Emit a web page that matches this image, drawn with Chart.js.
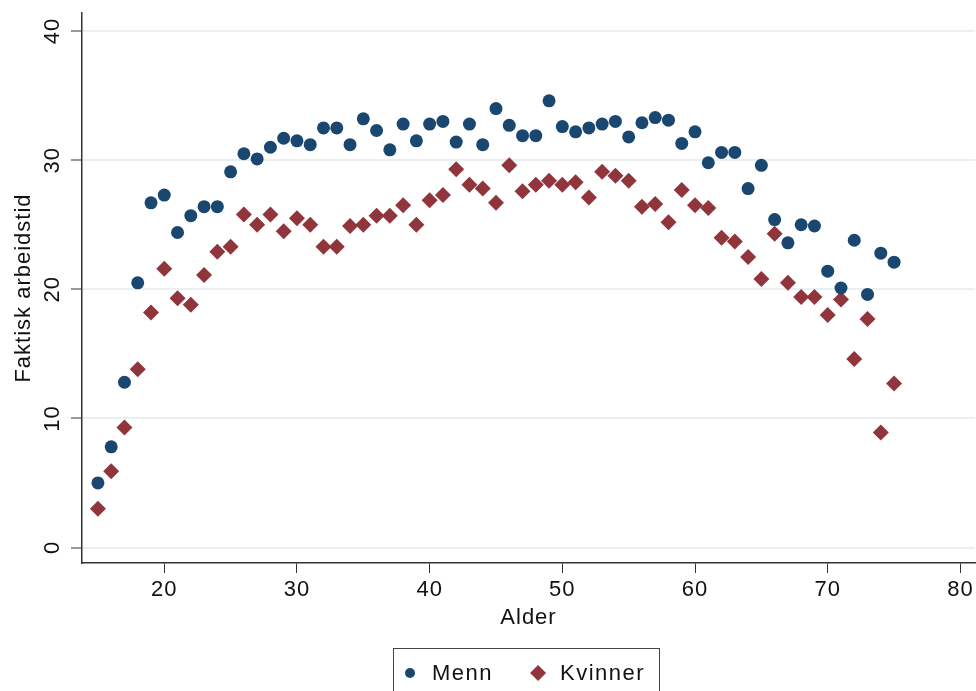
<!DOCTYPE html>
<html>
<head>
<meta charset="utf-8">
<script src="https://cdn.jsdelivr.net/npm/chart.js@4.4.1/dist/chart.umd.min.js"></script>
<style>
  html, body { margin: 0; padding: 0; background: #fff; }
  #wrap { width: 976px; height: 691px; }
</style>
</head>
<body>
<div id="wrap"><canvas id="chart"></canvas></div>
<script>
// Alder 15-75
const ages = [15,16,17,18,19,20,21,22,23,24,25,26,27,28,29,30,31,32,33,34,35,36,37,38,39,40,
  41,42,43,44,45,46,47,48,49,50,51,52,53,54,55,56,57,58,59,60,61,62,63,64,65,66,67,68,69,70,
  71,72,73,74,75];

const menn = [5.0,7.8,12.8,20.5,26.7,27.3,24.4,25.7,26.4,26.4,29.1,30.5,30.1,31.0,31.7,31.5,31.2,
  32.5,32.5,31.2,33.2,32.3,30.8,32.8,31.5,32.8,33.0,31.4,32.8,31.2,34.0,32.7,31.9,31.9,34.6,
  32.6,32.2,32.5,32.8,33.0,31.8,32.9,33.3,33.1,31.3,32.2,29.8,30.6,30.6,27.8,29.6,25.4,23.6,
  25.0,24.9,21.4,20.1,23.8,19.6,22.8,22.1];

const kvinner = [3.0,5.9,9.3,13.8,18.2,21.6,19.3,18.8,21.1,22.9,23.3,25.8,25.0,25.8,24.5,25.5,25.0,
  23.3,23.3,24.9,25.0,25.7,25.7,26.5,25.0,26.9,27.3,29.3,28.1,27.8,26.7,29.6,27.6,28.1,28.4,
  28.1,28.3,27.1,29.1,28.8,28.4,26.4,26.6,25.2,27.7,26.5,26.3,24.0,23.7,22.5,20.8,24.3,20.5,
  19.4,19.4,18.0,19.2,14.6,17.7,8.9,12.7];

const xTicks = [20, 30, 40, 50, 60, 70, 80];
const yTicks = [0, 10, 20, 30, 40];

const font = "'Liberation Sans', Arial, sans-serif";
const textColor = "#111";

// Stata-like text: a bit of letter spacing
const spacing = {
  id: "spacing",
  beforeLayout(chart) { chart.ctx.letterSpacing = "1px"; },
  beforeDraw(chart) { chart.ctx.letterSpacing = "1px"; },
};

// y tick labels, turned like in Stata
const yLabels = {
  id: "yLabels",
  afterDraw(chart) {
    const ctx = chart.ctx;
    const y = chart.scales.y;
    ctx.save();
    ctx.fillStyle = textColor;
    ctx.font = "22px " + font;
    ctx.letterSpacing = "1px";
    ctx.textAlign = "center";
    ctx.textBaseline = "middle";
    yTicks.forEach((v) => {
      ctx.save();
      ctx.translate(53, y.getPixelForValue(v));
      ctx.rotate(-Math.PI / 2);
      ctx.fillText(String(v), 0, 0);
      ctx.restore();
    });
    ctx.restore();
  },
};

// legend in a box under the plot
const legendBox = {
  id: "legendBox",
  afterDraw(chart) {
    const ctx = chart.ctx;
    const sets = chart.data.datasets;
    ctx.save();
    ctx.font = "22px " + font;
    ctx.letterSpacing = "1.5px";
    ctx.textBaseline = "middle";
    ctx.textAlign = "left";
    const cy = 673;
    const gap = 22;      // marker centre to text
    const between = 45;  // text end to next marker
    let width = 0;
    const widths = sets.map((d) => ctx.measureText(d.label).width);
    widths.forEach((w, i) => { width += gap + w + (i < sets.length - 1 ? between : 0); });
    const left = 393;
    let x = left + 17;
    sets.forEach((d, i) => {
      const r = d.pointStyle === "circle" ? 5 : 8;
      ctx.fillStyle = d.backgroundColor;
      ctx.strokeStyle = d.backgroundColor;
      Chart.helpers.drawPoint(ctx, { pointStyle: d.pointStyle, radius: r, borderWidth: 0 }, x, cy);
      ctx.fillStyle = textColor;
      ctx.fillText(d.label, x + gap, cy + 1);
      x += gap + widths[i] + between;
    });
    const right = left + 17 + width + 14;
    ctx.strokeStyle = "#444";
    ctx.lineWidth = 1;
    ctx.strokeRect(left + 0.5, 648.5, Math.round(right - left), 60);
    ctx.restore();
  },
};

new Chart(document.getElementById("chart"), {
  type: "scatter",
  data: {
    datasets: [
      {
        label: "Menn",
        data: ages.map((a, i) => ({ x: a, y: menn[i] })),
        pointStyle: "circle",
        pointRadius: 6.5,
        pointHoverRadius: 6.5,
        backgroundColor: "#1a476f",
        borderColor: "#1a476f",
        borderWidth: 0,
      },
      {
        label: "Kvinner",
        data: ages.map((a, i) => ({ x: a, y: kvinner[i] })),
        pointStyle: "rectRot",
        pointRadius: 8,
        pointHoverRadius: 8,
        backgroundColor: "#90353b",
        borderColor: "#90353b",
        borderWidth: 0,
      },
    ],
  },
  options: {
    responsive: true,
    maintainAspectRatio: false,
    animation: false,
    layout: { autoPadding: false, padding: { top: 13, right: 1, left: 0, bottom: 53 } },
    plugins: {
      tooltip: { enabled: false },
      legend: { display: false },
    },
    scales: {
      x: {
        type: "linear",
        min: 13.8,
        max: 81.1,
        afterBuildTicks: (axis) => {
          axis.ticks = xTicks.map((v) => ({ value: v }));
        },
        afterFit: (axis) => {
          axis.height = 75;
          axis.paddingLeft = 0;
          axis.paddingRight = 0;
        },
        ticks: { color: textColor, font: { family: font, size: 22 }, padding: 4, maxRotation: 0 },
        grid: { drawOnChartArea: false, drawTicks: true, tickLength: 10, tickColor: "#333" },
        border: { color: "#333", width: 1.5 },
        title: {
          display: true,
          text: "Alder",
          color: textColor,
          font: { family: font, size: 22 },
          padding: { top: 0, bottom: 7 },
        },
      },
      y: {
        type: "linear",
        min: -1.2,
        max: 41.4,
        afterBuildTicks: (axis) => {
          axis.ticks = yTicks.map((v) => ({ value: v }));
        },
        afterFit: (axis) => { axis.width = 82; },
        ticks: { display: false },
        grid: { color: "#e8f0f2", lineWidth: 2, tickLength: 11, tickColor: "#333", tickWidth: 1 },
        border: { color: "#333", width: 1.5 },
        title: {
          display: true,
          text: "Faktisk arbeidstid",
          color: textColor,
          font: { family: font, size: 22 },
          padding: { top: 11, bottom: 0 },
        },
      },
    },
  },
  plugins: [spacing, yLabels, legendBox],
});
</script>
</body>
</html>
